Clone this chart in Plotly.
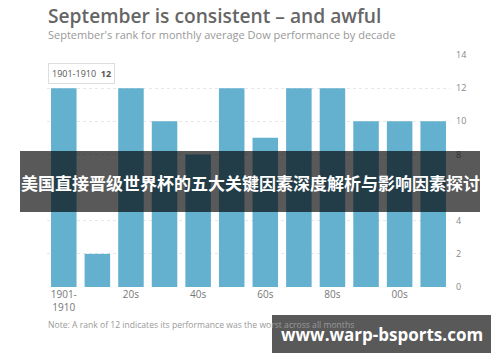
import plotly.graph_objects as go

decades = ["1901-1910", "1910s", "1920s", "1930s", "1940s", "1950s",
           "1960s", "1970s", "1980s", "1990s", "2000s", "2010s"]
ranks = [12, 2, 12, 10, 8, 12, 9, 12, 12, 10, 10, 10]
tick_labels = ["1901-<br>1910", "", "20s", "", "40s", "", "60s", "", "80s", "", "00s", ""]
y_ticks = [0, 2, 4, 6, 8, 10, 12, 14]

W, H = 500, 362
L, R, T, B = 47, 450, 55, 287  # plot area in pixels


def px(x):
    return (x - L) / (R - L)


def py(y):
    return (B - y) / (B - T)


fig = go.Figure(go.Bar(x=decades, y=ranks, marker_color="#63b0cf",
                       marker_line_width=0, hoverinfo="skip"))

fig.update_layout(
    width=W, height=H,
    margin=dict(l=L, r=W - R, t=T, b=H - B),
    paper_bgcolor="white", plot_bgcolor="white",
    bargap=0.24, showlegend=False,
    font=dict(family="Open Sans", color="#888"),
    xaxis=dict(tickmode="array", tickvals=decades, ticktext=tick_labels,
               tickfont=dict(size=10, color="#777"), showgrid=False,
               zeroline=False, showline=False, ticks=""),
    yaxis=dict(side="right", range=[0, 14], tickvals=y_ticks,
               tickfont=dict(size=9, color="#888"), showgrid=True,
               gridcolor="#e6e6e6", griddash="dot", zeroline=False,
               showline=False, ticklabelstandoff=5),
)

annotations = [
    dict(text="September is consistent – and awful", x=px(46), y=py(15),
         font=dict(size=19.2, color="#666", family="Open Sans", weight=600)),
    dict(text="September's rank for monthly average Dow performance by decade",
         x=px(46), y=py(34), font=dict(size=11, color="#999", family="Open Sans")),
    dict(text="Note: A rank of 12 indicates its performance was the worst across all months",
         x=px(46), y=py(325), font=dict(size=8.6, color="#999", family="Open Sans")),
]
for a in annotations:
    a.update(xref="paper", yref="paper", xanchor="left", yanchor="middle",
             showarrow=False)

# tooltip box
annotations.append(dict(text="1901-1910  <b>12</b>", x=px(48), y=py(73),
                        xref="paper", yref="paper", xanchor="left", yanchor="middle",
                        showarrow=False, bgcolor="white", bordercolor="#ddd",
                        borderwidth=1, borderpad=3,
                        font=dict(size=9, color="#555", family="Open Sans")))

# banner and watermark
fig.add_shape(type="rect", xref="paper", yref="paper", x0=px(20), x1=px(480),
              y0=py(212), y1=py(151), fillcolor="rgba(0,0,0,0.65)", line_width=0,
              layer="above")
fig.add_shape(type="rect", xref="paper", yref="paper", x0=px(272), x1=px(491),
              y0=py(353), y1=py(315), fillcolor="rgba(0,0,0,0.65)", line_width=0,
              layer="above")
annotations.append(dict(text="<b>美国直接晋级世界杯的五大关键因素深度解析与影响因素探讨</b>",
                        x=px(250), y=py(182), xref="paper", yref="paper",
                        xanchor="center", yanchor="middle", showarrow=False,
                        font=dict(size=17, color="white", family="Noto Sans CJK SC")))
annotations.append(dict(text="<b>www.warp-bsports.com</b>",
                        x=px(382), y=py(334), xref="paper", yref="paper",
                        xanchor="center", yanchor="middle", showarrow=False,
                        font=dict(size=17, color="white", family="Open Sans")))

fig.update_layout(annotations=annotations)
fig.write_html("out.html")
